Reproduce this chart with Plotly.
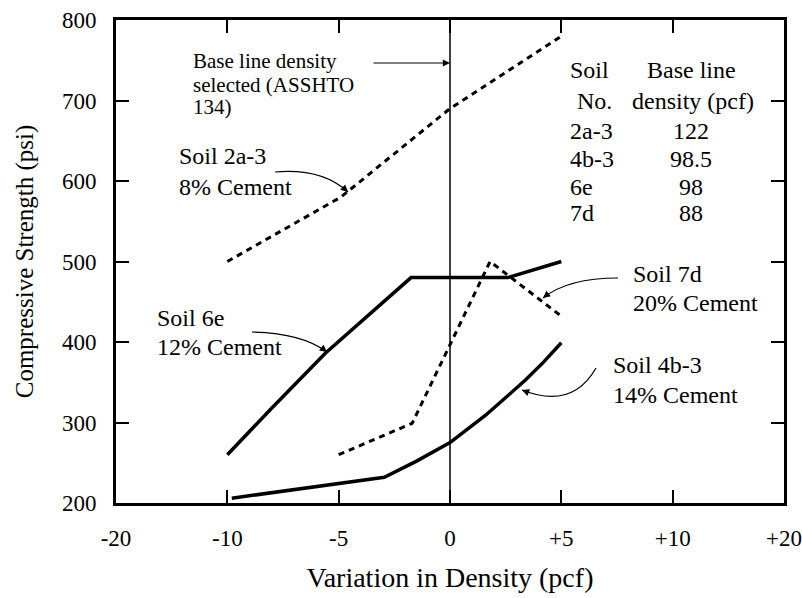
import plotly.graph_objects as go

FONT = "Liberation Serif"

# x tick positions (axis compressed beyond +/-10: "-20" shown at -15, "+20" at +15)
tick_pos = [-15, -10, -5, 0, 5, 10, 15]
tick_txt = ["-20", "-10", "-5", "0", "+5", "+10", "+20"]
y_ticks = [200, 300, 400, 500, 600, 700, 800]

soil_2a3_x = [-10, -4.9, 0, 5]
soil_2a3_y = [500, 580, 690, 780]

soil_6e_x = [-10, -8, -5.6, -1.75, 2.6, 5]
soil_6e_y = [260, 318, 386, 480, 480, 500]

soil_7d_x = [-5, -1.7, 1.8, 5]
soil_7d_y = [260, 299, 500, 432]

soil_4b3_x = [-9.8, -2.95, -1.5, 0, 1.6, 2.6, 3.4, 4.2, 5]
soil_4b3_y = [206, 232, 252, 275, 309, 333, 353, 375, 399]

table_soil = ["2a-3", "4b-3", "6e", "7d"]
table_density = ["122", "98.5", "98", "88"]

# plot area geometry (for placing annotations by reference pixel positions)
L, R, T, B, W, H = 116, 18, 20, 95, 802, 598
PW, PH = W - L - R, H - T - B

def X(px):
    return -15 + (px - L) / PW * 30

def Y(py):
    return 200 + (T + PH - py) / PH * 600

fig = go.Figure()
fig.add_trace(go.Scatter(x=soil_2a3_x, y=soil_2a3_y, mode="lines",
                         line=dict(color="black", width=3, dash="6px,5px")))
fig.add_trace(go.Scatter(x=soil_6e_x, y=soil_6e_y, mode="lines",
                         line=dict(color="black", width=3.5)))
fig.add_trace(go.Scatter(x=soil_7d_x, y=soil_7d_y, mode="lines",
                         line=dict(color="black", width=3, dash="6px,5px")))
fig.add_trace(go.Scatter(x=soil_4b3_x, y=soil_4b3_y, mode="lines",
                         line=dict(color="black", width=3.5)))

# vertical baseline at 0
fig.add_shape(type="line", x0=0, x1=0, y0=0, y1=1, xref="x", yref="paper",
              line=dict(color="black", width=1.5))

def curve(p0, c, p1):
    fig.add_shape(type="path", xref="x", yref="y",
                  path=f"M {X(p0[0])},{Y(p0[1])} Q {X(c[0])},{Y(c[1])} {X(p1[0])},{Y(p1[1])}",
                  line=dict(color="black", width=1.2))
    dx, dy = p1[0] - c[0], p1[1] - c[1]
    n = (dx * dx + dy * dy) ** 0.5
    fig.add_annotation(x=X(p1[0]), y=Y(p1[1]), ax=-dx / n * 8, ay=-dy / n * 8,
                       xref="x", yref="y", text="", showarrow=True, arrowhead=2,
                       arrowsize=1.2, arrowwidth=1.2, arrowcolor="black")

def text(px, py, s, size, anchor="left"):
    fig.add_annotation(x=X(px), y=Y(py), xref="x", yref="y", xanchor=anchor,
                       yanchor="middle", text=s, showarrow=False,
                       font=dict(family=FONT, size=size, color="black"))

# Base line note
fig.add_annotation(x=0, y=Y(63), ax=-78, ay=0, xref="x", yref="y", text="",
                   showarrow=True, arrowhead=2, arrowsize=1.2, arrowwidth=1.2,
                   arrowcolor="black")
text(191, 61, "Base line density", 21)
text(191, 85, "selected (ASSHTO", 21)
text(191, 107, "134)", 21)

# curve labels
text(177, 156, "Soil 2a-3", 24)
text(177, 187, "8% Cement", 24)
curve((275, 172), (322, 168), (348, 192))

text(155, 318, "Soil 6e", 24)
text(155, 347, "12% Cement", 24)
curve((252, 332), (302, 333), (327, 352))

text(631, 274, "Soil 7d", 24)
text(631, 303, "20% Cement", 24)
curve((618, 278), (568, 278), (543, 298))

text(611, 365, "Soil 4b-3", 24)
text(611, 395, "14% Cement", 24)
curve((596, 368), (572, 410), (522, 390))

# table
text(568, 70, "Soil", 24)
text(691, 70, "Base line", 24, "center")
text(575, 101, "No.", 24)
text(693, 101, "density (pcf)", 24, "center")
row_y = [131, 159, 187, 213]
for s, d, yy in zip(table_soil, table_density, row_y):
    text(568, yy, s, 24)
    text(691, yy, d, 24, "center")

axis_common = dict(showline=True, linecolor="black", linewidth=3, mirror="ticks",
                   ticks="inside", ticklen=13, tickwidth=2, tickcolor="black",
                   showgrid=False, zeroline=False, automargin=False,
                   tickfont=dict(family=FONT, size=23, color="black"))

fig.update_xaxes(range=[-15, 15], tickvals=tick_pos, ticktext=tick_txt,
                 ticklabelstandoff=12,
                 title=dict(text="Variation in Density (pcf)", standoff=18,
                            font=dict(family=FONT, size=28, color="black")),
                 **axis_common)
fig.update_yaxes(range=[200, 800], tickvals=y_ticks, ticklabelstandoff=12,
                 title=dict(text="Compressive Strength (psi)", standoff=22,
                            font=dict(family=FONT, size=25, color="black")),
                 **axis_common)

fig.update_layout(width=W, height=H, margin=dict(l=L, r=R, t=T, b=B),
                  plot_bgcolor="white", paper_bgcolor="white", showlegend=False)

fig.write_html("out.html")
